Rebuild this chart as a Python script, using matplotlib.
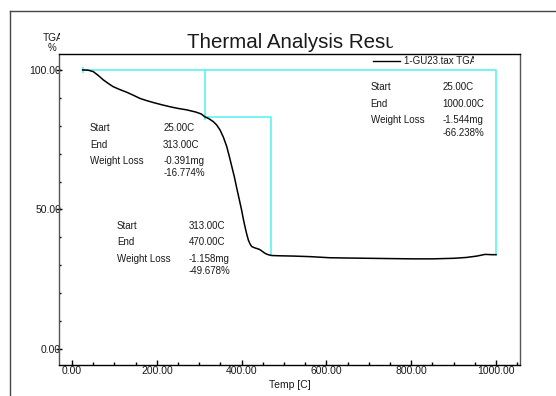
import matplotlib
matplotlib.use('Agg')
import matplotlib.pyplot as plt
from matplotlib.lines import Line2D
from matplotlib.ticker import MultipleLocator, FormatStrFormatter
from matplotlib.transforms import Bbox

plt.rcParams['font.family'] = ['Liberation Sans', 'DejaVu Sans']

# TGA curve
temp = [25, 38, 50, 62, 74, 86, 97, 112, 129, 145, 160, 176, 192, 212, 231, 250, 270,
        292, 305, 313, 322, 333, 341, 349, 357, 365, 371, 377, 383, 388, 394, 400,
        404, 408, 412, 416, 420, 424, 430, 436, 442, 447, 453, 459, 465, 471,
        490, 522, 561, 608, 650, 700, 750, 805, 850, 900, 930, 955, 974, 990, 1000]
mass = [100.0, 99.9, 99.4, 98.0, 96.4, 95.1, 94.0, 93.0, 92.0, 90.9, 89.8, 89.0, 88.3, 87.5, 86.8, 86.2, 85.7,
        84.9, 84.2, 83.2, 82.6, 81.5, 80.3, 78.5, 75.9, 72.5, 69.0, 65.3, 61.6, 58.0, 53.9, 49.8,
        46.6, 43.8, 41.2, 39.0, 37.6, 36.7, 36.3, 36.0, 35.7, 35.2, 34.5, 34.0, 33.7, 33.5,
        33.4, 33.3, 33.1, 32.7, 32.6, 32.5, 32.4, 32.3, 32.3, 32.5, 32.8, 33.3, 33.9, 33.8, 33.8]

# step analysis results
steps = [
    {'start': 25.0, 'end': 313.0, 'mg': -0.391, 'pct': -16.774},
    {'start': 313.0, 'end': 470.0, 'mg': -1.158, 'pct': -49.678},
    {'start': 25.0, 'end': 1000.0, 'mg': -1.544, 'pct': -66.238},
]
# where each result block is written (data coords of the "Start" row)
label_pos = [(42, 79.2, 215), (106, 44.2, 276), (704, 93.7, 874)]

x_ticks = [0, 200, 400, 600, 800, 1000]
y_ticks = [0, 50, 100]

cyan = '#4ef2f2'
ink = '#1a1a1a'
W, H = 556, 396

fig = plt.figure(figsize=(W / 100, H / 100), dpi=100)
ax = fig.add_axes([59 / W, 31 / H, 461 / W, 311 / H])

ax.plot(temp, mass, color='black', lw=1.1, zorder=3)

# step lines: 100% start level, each step drop
top = mass[0]
m313 = 100 + steps[0]['pct']
m470 = 100 + steps[0]['pct'] + steps[1]['pct']
m1000 = 100 + steps[2]['pct']
ax.plot([steps[2]['start'], steps[2]['end'], steps[2]['end']], [top, top, m1000],
        color=cyan, lw=1.1, zorder=2)
ax.plot([steps[0]['end'], steps[0]['end']], [top, m313], color=cyan, lw=1.1, zorder=2)
ax.plot([steps[1]['start'], steps[1]['end'], steps[1]['end']], [m313, m313, m470],
        color=cyan, lw=1.1, zorder=2)
ax.plot([steps[0]['start'], steps[1]['start']], [top, m313], ls='none', marker='|',
        ms=5, mew=1.1, color=cyan, zorder=2)

# result blocks
dy = [0, 6.0, 11.8, 16.3]
for s, (xl, yl, xv) in zip(steps, label_pos):
    rows = [('Start', '%.2fC' % s['start']), ('End', '%.2fC' % s['end']),
            ('Weight Loss', '%.3fmg' % s['mg']), ('', '%.3f%%' % s['pct'])]
    for (lab, val), d in zip(rows, dy):
        if lab:
            ax.text(xl, yl - d, lab, fontsize=7, color=ink, va='center', ha='left')
        ax.text(xv, yl - d, val, fontsize=7, color=ink, va='center', ha='left')

ax.set_xlim(-30.7, 1056.6)
ax.set_ylim(-5.73, 105.7)
ax.set_xticks(x_ticks)
ax.set_yticks(y_ticks)
ax.xaxis.set_minor_locator(MultipleLocator(50))
ax.yaxis.set_minor_locator(MultipleLocator(10))
ax.xaxis.set_major_formatter(FormatStrFormatter('%.2f'))
ax.yaxis.set_major_formatter(FormatStrFormatter('%.2f'))
ax.tick_params(axis='x', which='major', direction='in', length=3.3, width=1, pad=0.5,
               labelsize=7.5, labelcolor=ink)
ax.tick_params(axis='x', which='minor', direction='in', length=2, width=1)
ax.tick_params(axis='y', which='major', direction='inout', length=5, width=1, pad=-4,
               labelsize=7.5, labelcolor=ink)
ax.tick_params(axis='y', which='minor', direction='in', length=1.6, width=1)
ax.spines['left'].set_color('#555555')
ax.spines['right'].set_color('#555555')
for sp in ax.spines.values():
    sp.set_linewidth(1)
ax.set_xlabel('Temp [C]', fontsize=7.5, color=ink, labelpad=3)

# outer frame of the report page
fig.add_artist(Line2D([10 / W, 10 / W], [0, 1 - 11 / H], transform=fig.transFigure,
                      color='#444444', lw=1))
fig.add_artist(Line2D([10 / W, 1], [1 - 11 / H, 1 - 11 / H], transform=fig.transFigure,
                      color='#444444', lw=1))

# title and header texts, clipped like in the report
t = fig.text(187 / W, 1 - 48 / H, 'Thermal Analysis Resu', fontsize=14.8, color=ink,
             ha='left', va='baseline')
t.set_clip_box(Bbox([[0, 0], [393, H]]))
t.set_clip_on(True)

t = fig.text(43 / W, 1 - 41 / H, 'TGA', fontsize=7.3, color=ink, ha='left', va='baseline')
t.set_clip_box(Bbox([[0, 0], [59.5, H]]))
t.set_clip_on(True)
fig.text(52 / W, 1 - 51 / H, '%', fontsize=7, color=ink, ha='center', va='baseline')

fig.add_artist(Line2D([373 / W, 400 / W], [1 - 61 / H, 1 - 61 / H], transform=fig.transFigure,
                      color='black', lw=1))
t = fig.text(404 / W, 1 - 64.5 / H, '1-GU23.tax TGA', fontsize=7, color=ink,
             ha='left', va='baseline')
t.set_clip_box(Bbox([[0, 0], [474, H]]))
t.set_clip_on(True)

fig.savefig('out.png', dpi=100)
